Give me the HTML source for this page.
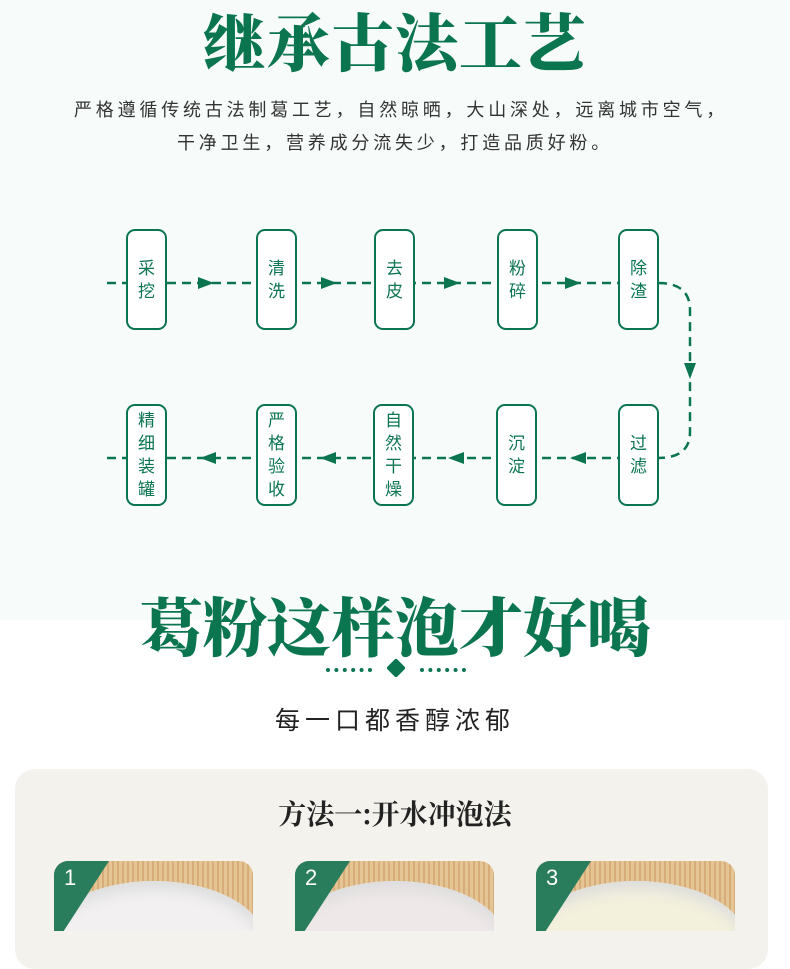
<!DOCTYPE html>
<html><head><meta charset="utf-8"><style>
body{margin:0;width:790px;height:916px;overflow:hidden;background:#fff;font-family:"Liberation Sans","Noto Sans CJK SC",sans-serif;position:relative}
.top{position:absolute;left:0;top:0;width:790px;height:620px;background:#f7fcfb}
.t{position:absolute;left:0;width:790px;text-align:center;color:#0b7550;font-family:"Noto Serif CJK SC","Noto Sans CJK SC",serif;font-weight:900}
.p{position:absolute;left:0;width:790px;text-align:center;color:#333;font-size:18px;letter-spacing:3.8px}
.b{position:absolute;width:37px;border:2px solid #0b7550;border-radius:9px;background:#fff;color:#0b7550;font-size:17px;line-height:23px;display:flex;align-items:center;justify-content:center;text-align:center}
.card{position:absolute;left:15px;top:769px;width:753px;height:200px;background:#f3f2ec;border-radius:20px}
.img{position:absolute;top:861px;width:199px;height:70px;border-radius:14px 14px 0 0;overflow:hidden;background:repeating-linear-gradient(90deg,#e6c595 0 3px,#d6ad78 3px 5px)}
.bowl{position:absolute;left:-10px;top:20px;width:220px;height:120px;border-radius:50%;background:#f2f0f0;box-shadow:inset 0 8px 14px #ddd}
.badge{position:absolute;left:0;top:0;width:0;height:0;border-top:85px solid #2a7d5c;border-right:55px solid transparent}
.num{position:absolute;left:10px;top:4px;color:#fff;font-size:22px}
</style></head><body>
<div class="top"></div>
<div class="t" style="top:-6px;font-size:63px;letter-spacing:1px">继承古法工艺</div>
<div class="p" style="top:96px;left:6px">严格遵循传统古法制葛工艺，自然晾晒，大山深处，远离城市空气，</div>
<div class="p" style="top:129px">干净卫生，营养成分流失少，打造品质好粉。</div>
<svg style="position:absolute;left:0;top:0" width="790" height="620">
<g stroke="#0b7550" stroke-width="2.5" stroke-dasharray="9,6" fill="none">
<line x1="107" y1="283" x2="640" y2="283"/>
<line x1="107" y1="458" x2="640" y2="458"/>
<path d="M658 283 Q690 283 690 310 L690 432 Q690 458 658 458"/>
</g>
<g fill="#0b7550">
<path d="M198 277 L214 283 L198 289 Z"/><path d="M321 277 L337 283 L321 289 Z"/><path d="M444 277 L460 283 L444 289 Z"/><path d="M565 277 L581 283 L565 289 Z"/>
<path d="M684 363 L690 379 L696 363 Z"/>
<path d="M216 452 L200 458 L216 464 Z"/><path d="M336 452 L320 458 L336 464 Z"/><path d="M464 452 L448 458 L464 464 Z"/><path d="M586 452 L570 458 L586 464 Z"/>
</g></svg>
<div class="b" style="left:126px;top:229px;height:97px">采<br>挖</div>
<div class="b" style="left:256px;top:229px;height:97px">清<br>洗</div>
<div class="b" style="left:374px;top:229px;height:97px">去<br>皮</div>
<div class="b" style="left:497px;top:229px;height:97px">粉<br>碎</div>
<div class="b" style="left:618px;top:229px;height:97px">除<br>渣</div>
<div class="b" style="left:126px;top:404px;height:98px">精<br>细<br>装<br>罐</div>
<div class="b" style="left:256px;top:404px;height:98px">严<br>格<br>验<br>收</div>
<div class="b" style="left:373px;top:404px;height:98px">自<br>然<br>干<br>燥</div>
<div class="b" style="left:496px;top:404px;height:98px">沉<br>淀</div>
<div class="b" style="left:618px;top:404px;height:98px">过<br>滤</div>
<div class="t" style="top:578px;font-size:64px;letter-spacing:0px">葛粉这样泡才好喝</div>
<div style="position:absolute;left:326px;top:668px;width:46px;border-top:4px dotted #0b7550"></div>
<div style="position:absolute;left:420px;top:668px;width:46px;border-top:4px dotted #0b7550"></div>
<div style="position:absolute;left:389px;top:661px;width:14px;height:14px;background:#0b7550;transform:rotate(45deg);border-radius:2px"></div>
<div class="p" style="top:701px;font-size:25px;letter-spacing:5px;color:#222">每一口都香醇浓郁</div>
<div class="card"></div>
<div style="position:absolute;left:0;width:790px;top:793px;text-align:center;font-family:'Noto Serif CJK SC',serif;font-weight:bold;font-size:28px;color:#222">方法一:开水冲泡法</div>
<div class="img" style="left:54px"><div class="bowl"></div><div class="badge"></div><div class="num">1</div></div>
<div class="img" style="left:295px"><div class="bowl" style="background:#efe8e8"></div><div class="badge"></div><div class="num">2</div></div>
<div class="img" style="left:536px"><div class="bowl" style="background:#f3f0dc"></div><div class="badge"></div><div class="num">3</div></div>
</body></html>
